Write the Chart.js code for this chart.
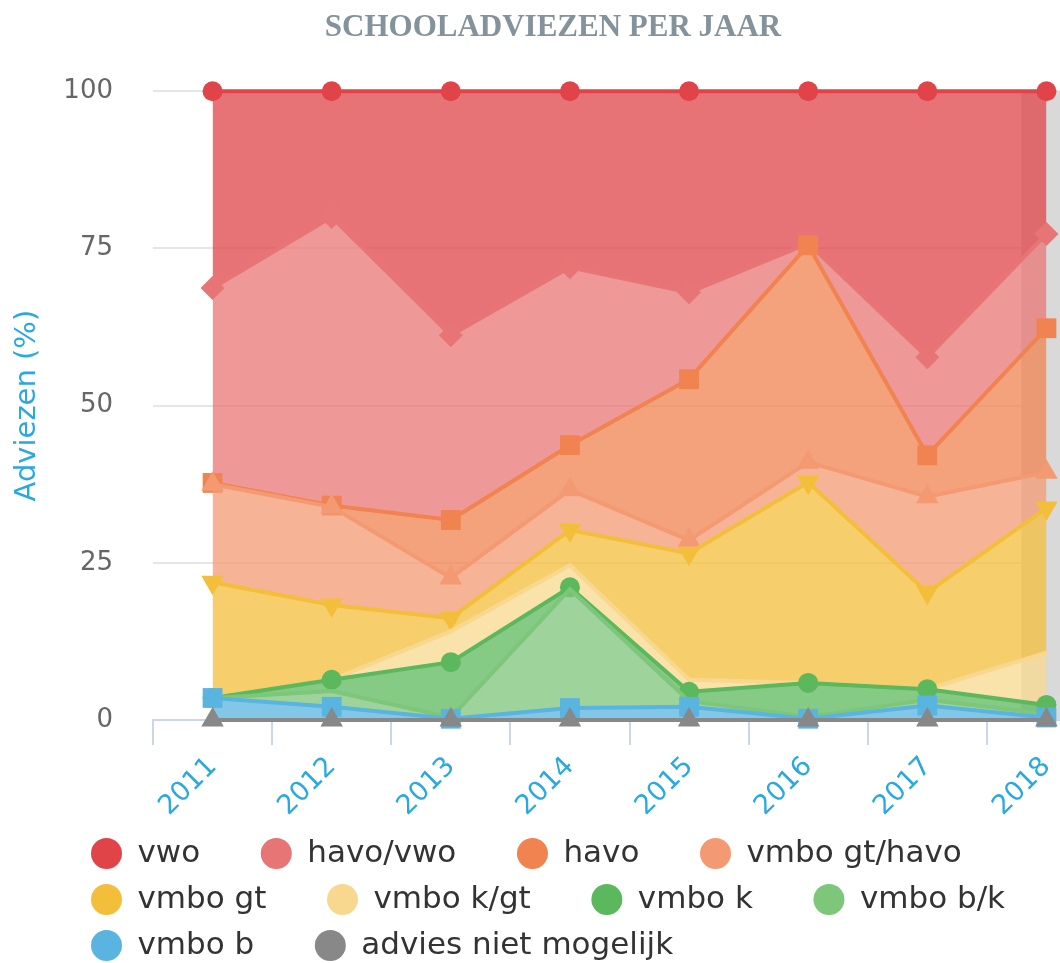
<!DOCTYPE html>
<html>
<head>
<meta charset="utf-8">
<title>Schooladviezen per jaar</title>
<script src="https://cdn.jsdelivr.net/npm/chart.js@4.4.1/dist/chart.umd.min.js"></script>
<style>
  html, body { margin: 0; padding: 0; background: #fff; overflow: hidden; }
  #chart { display: block; }
</style>
</head>
<body>
<canvas id="chart" width="1106" height="971"></canvas>
<script>
// categories
const years = ['2011', '2012', '2013', '2014', '2015', '2016', '2017', '2018'];

// share per advice (%), stacked bottom -> top
const adviesNietMogelijk = [0, 0, 0, 0, 0, 0, 0, 0];
const vmboB      = [3.5, 2.1, 0.2, 1.9, 2.1, 0.2, 2.3, 0.4];
const vmboBK     = [0, 2.5, 0.2, 18.9, 0.9, 0.3, 0.9, 0.6];
const vmboK      = [0, 1.8, 8.8, 0.3, 1.5, 5.4, 1.7, 1.4];
const vmboKGt    = [0, 0, 4.9, 3.5, 1.9, 0, 0, 8.3];
const vmboGt     = [18.4, 11.9, 2.1, 5.6, 20.1, 31.9, 15.4, 23.0];
const vmboGtHavo = [15.6, 15.6, 6.4, 6.4, 2.1, 3.2, 15.2, 5.7];
const havo       = [0.2, 0.2, 9.2, 7.1, 25.6, 34.5, 6.6, 22.9];
const havoVwo    = [31.0, 45.9, 29.4, 28.3, 13.8, 0.3, 15.6, 15.0];
const vwo        = [31.3, 20.0, 38.8, 28.0, 32.0, 24.2, 42.3, 22.7];

const yTicks = [0, 25, 50, 75, 100];

const names = ['advies niet mogelijk', 'vmbo b', 'vmbo b/k', 'vmbo k', 'vmbo k/gt',
               'vmbo gt', 'vmbo gt/havo', 'havo', 'havo/vwo', 'vwo'];
const series = [adviesNietMogelijk, vmboB, vmboBK, vmboK, vmboKGt,
                vmboGt, vmboGtHavo, havo, havoVwo, vwo];

const colors  = ['#888888', '#5ab4e0', '#7dc67a', '#5cb85c', '#f8d88f',
                 '#f3bf3b', '#f39a72', '#f08350', '#e87575', '#e04448'];
const markers = ['triangle', 'rect', 'circle', 'circle', 'circle',
                 'triangle', 'triangle', 'rect', 'rectRot', 'circle'];
const markerSize = [13, 14, 0, 10, 0, 13, 13, 14, 12, 10];
const markerTurn = [0, 0, 0, 0, 0, 180, 0, 0, 0, 0];

function fade(hex, a) {
  const n = parseInt(hex.slice(1), 16);
  return `rgba(${n >> 16}, ${(n >> 8) & 255}, ${n & 255}, ${a})`;
}

const FONT = 'DejaVu Sans';

// legend rows start further right than the canvas edge
const legendShift = {
  id: 'legendShift',
  afterLayout(chart) {
    chart.legend.left += 76;
  }
};

// grey band over the last category, behind the areas
const lastBand = {
  id: 'lastBand',
  beforeDatasetsDraw(chart) {
    const { ctx, chartArea } = chart;
    const x = chart.scales.x.getPixelForValue(years.length - 1) - 25;
    ctx.save();
    ctx.fillStyle = '#d9d9d9';
    ctx.fillRect(x, chartArea.top, chartArea.right - x, chartArea.bottom - chartArea.top);
    ctx.restore();
  }
};

new Chart(document.getElementById('chart'), {
  type: 'line',
  data: {
    labels: years,
    datasets: series.map((data, i) => ({
      label: names[i],
      data: data,
      borderColor: colors[i],
      backgroundColor: fade(colors[i], 0.75),
      borderWidth: 4,
      fill: i === 0 ? 'origin' : '-1',
      tension: 0,
      pointStyle: markers[i],
      pointRadius: markerSize[i],
      pointRotation: markerTurn[i],
      pointBackgroundColor: colors[i],
      pointBorderWidth: 0,
      clip: false
    }))
  },
  options: {
    responsive: false,
    animation: false,
    events: [],
    layout: { autoPadding: false },
    plugins: {
      title: {
        display: true,
        text: 'SCHOOLADVIEZEN PER JAAR',
        color: '#84939b',
        font: { family: 'Liberation Serif', size: 31, weight: 'bold' },
        padding: { top: 9, bottom: 45 }
      },
      legend: {
        position: 'bottom',
        align: 'start',
        reverse: true,
        labels: {
          usePointStyle: true,
          pointStyle: 'circle',
          pointStyleWidth: 31,
          boxWidth: 31,
          boxHeight: 22,
          padding: 15,
          color: '#333333',
          font: { family: FONT, size: 31 },
          generateLabels(chart) {
            const items = Chart.defaults.plugins.legend.labels.generateLabels(chart);
            return items.map(it => Object.assign(it, {
              text: it.text + '    \u2009',
              fillStyle: colors[it.datasetIndex],
              strokeStyle: colors[it.datasetIndex],
              lineWidth: 0,
              pointStyle: 'circle',
              rotation: 0
            }));
          }
        }
      },
      tooltip: { enabled: false }
    },
    scales: {
      x: {
        offset: true,
        grid: { offset: true, drawOnChartArea: false, tickLength: 25, color: '#ccd6eb', lineWidth: 2 },
        border: { color: '#ccd6eb', width: 2 },
        ticks: {
          color: '#29a9e0',
          font: { family: FONT, size: 27 },
          minRotation: 45,
          maxRotation: 45,
          autoSkip: false,
          padding: 6
        },
        afterFit(s) {
          s.height = 103;
          s.paddingLeft = 0;
          s.paddingRight = 0;
        }
      },
      y: {
        stacked: true,
        min: 0,
        max: 100,
        afterBuildTicks(s) { s.ticks = yTicks.map(v => ({ value: v })); },
        ticks: { color: '#666666', font: { family: FONT, size: 26 }, padding: 40 },
        grid: { color: '#e6e6e6', lineWidth: 2, drawTicks: false },
        border: { display: false },
        title: {
          display: true,
          text: 'Adviezen (%)',
          color: '#29a9e0',
          font: { family: FONT, size: 29 },
          padding: { top: 10, bottom: 0 }
        },
        afterFit(s) { s.width = 153; }
      }
    }
  },
  plugins: [legendShift, lastBand]
});
</script>
</body>
</html>
